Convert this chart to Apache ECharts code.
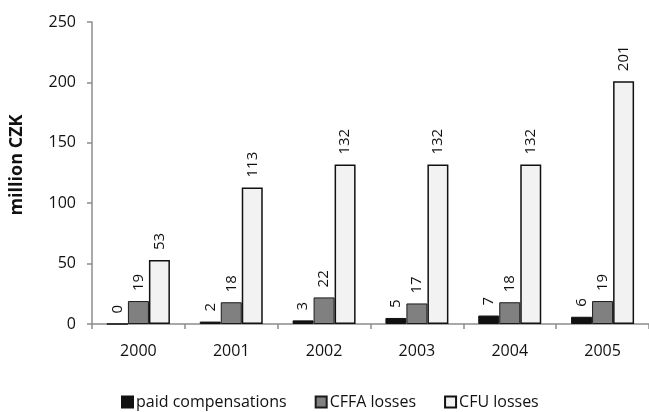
<!DOCTYPE html>
<html>
<head>
<meta charset="utf-8">
<script src="https://cdn.jsdelivr.net/npm/echarts@6/dist/echarts.min.js"></script>
<style>
  html, body { margin: 0; padding: 0; background: #fff; }
  #chart { width: 649px; height: 412px; }
</style>
</head>
<body>
<div id="chart"></div>
<script>
// Compensations and losses per year (million CZK)
const years = ['2000', '2001', '2002', '2003', '2004', '2005'];
const paidCompensations = [0, 2, 3, 5, 7, 6];
const cffaLosses = [19, 18, 22, 17, 18, 19];
const cfuLosses = [53, 113, 132, 132, 132, 201];
const seriesNames = ['paid compensations', 'CFFA losses', 'CFU losses'];

const FONT = '"Open Sans", "Noto Sans", sans-serif';
const TXT = '#111';

const chart = echarts.init(document.getElementById('chart'));

function barLabel() {
  return {
    show: true,
    position: 'top',
    rotate: 90,
    align: 'left',
    verticalAlign: 'middle',
    distance: 10,
    color: TXT,
    fontFamily: FONT,
    fontSize: 15
  };
}

chart.setOption({
  animation: false,
  backgroundColor: '#fff',
  grid: { left: 90, top: 22, right: 0, bottom: 88, containLabel: false },
  legend: {
    left: 116,
    top: 389,
    itemGap: 28,
    itemWidth: 11,
    itemHeight: 11,
    icon: 'rect',
    textStyle: { color: TXT, fontFamily: FONT, fontSize: 16, padding: [0, 0, 0, -2] },
    data: seriesNames
  },
  xAxis: {
    type: 'category',
    data: years,
    axisLine: { lineStyle: { color: '#8c8c8c', width: 1.5 } },
    axisTick: { show: true, length: 5, lineStyle: { color: '#8c8c8c', width: 1.5 } },
    axisLabel: { color: TXT, fontFamily: FONT, fontSize: 16, margin: 19 }
  },
  yAxis: {
    type: 'value',
    min: 0,
    max: 250,
    interval: 50,
    name: 'million CZK',
    nameLocation: 'middle',
    nameGap: 66,
    nameRotate: 90,
    nameTextStyle: { color: TXT, fontFamily: FONT, fontSize: 18, fontWeight: 'bold', padding: [0, 0, 0, 16] },
    axisLine: { show: true, lineStyle: { color: '#8c8c8c', width: 1.5 } },
    axisTick: { show: true, length: 5, lineStyle: { color: '#8c8c8c', width: 1.5 } },
    splitLine: { show: false },
    axisLabel: { color: TXT, fontFamily: FONT, fontSize: 16, margin: 16 }
  },
  series: [
    {
      name: seriesNames[0],
      type: 'bar',
      data: paidCompensations,
      barWidth: 21,
      barGap: '0%',
      itemStyle: { color: '#111', borderColor: '#111', borderWidth: 1 },
      label: barLabel()
    },
    {
      name: seriesNames[1],
      type: 'bar',
      data: cffaLosses,
      barWidth: 21,
      barGap: '0%',
      itemStyle: { color: '#808080', borderColor: '#1a1a1a', borderWidth: 1 },
      label: barLabel()
    },
    {
      name: seriesNames[2],
      type: 'bar',
      data: cfuLosses,
      barWidth: 21,
      barGap: '0%',
      itemStyle: { color: '#f2f2f2', borderColor: '#111', borderWidth: 1.5 },
      label: barLabel()
    }
  ]
});
</script>
</body>
</html>
